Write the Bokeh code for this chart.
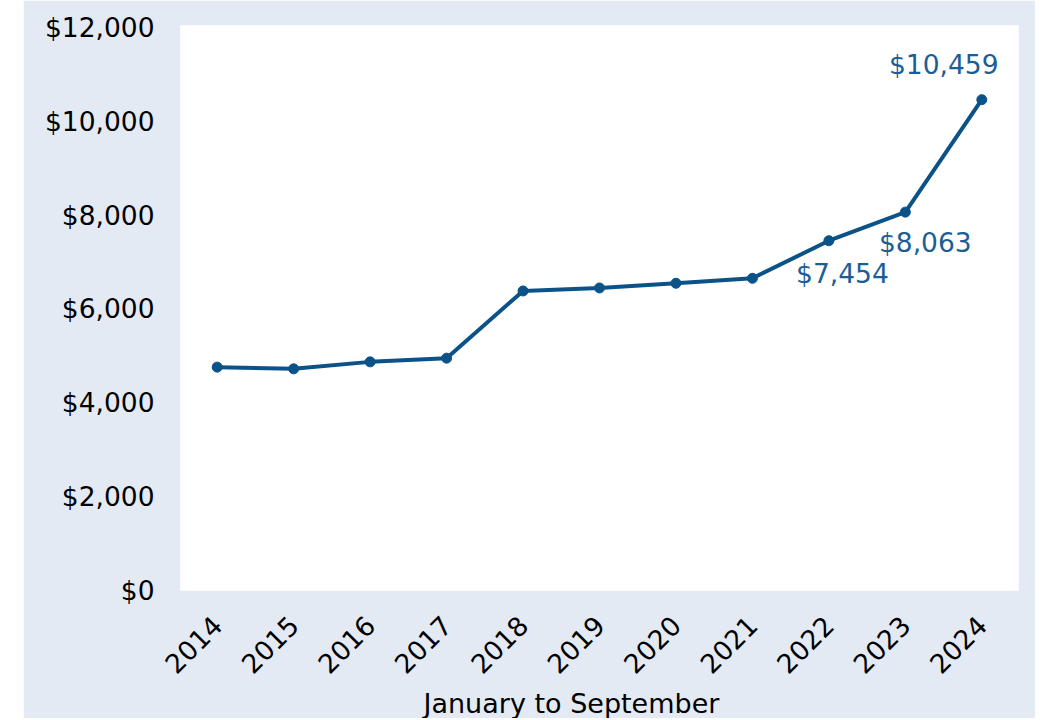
import math
from bokeh.plotting import figure
from bokeh.layouts import row
from bokeh.models import Range1d, FixedTicker, NumeralTickFormatter, ColumnDataSource, LabelSet, Title, Spacer
from bokeh.embed import file_html
from bokeh.resources import INLINE
from bokeh.core.properties import value

years = [2014, 2015, 2016, 2017, 2018, 2019, 2020, 2021, 2022, 2023, 2024]
amounts = [4760, 4723, 4872, 4951, 6383, 6447, 6547, 6653, 7454, 8063, 10459]
label_years = [2022, 2023, 2024]
label_values = [7454, 8063, 10459]
label_texts = ["$7,454", "$8,063", "$10,459"]
y_ticks = [0, 2000, 4000, 6000, 8000, 10000, 12000]
x_title = "January to September"

LINE = "#0B5288"
LABEL = "#1B5E96"
BG = "#E3EAF4"
FONT = "DejaVu Sans"

x_lo, x_hi = 2013.52, 2024.48
p = figure(width=1012, height=718, output_backend="svg", toolbar_location=None,
           x_range=Range1d(x_lo, x_hi), y_range=Range1d(0, 12040),
           min_border_left=157, min_border_right=17, min_border_top=25, min_border_bottom=127)
p.background_fill_color = "white"
p.border_fill_color = BG
p.outline_line_color = None
p.grid.visible = False

p.line(years, amounts, line_color=LINE, line_width=4)
p.scatter(years, amounts, size=10, fill_color=LINE, line_color=LINE)

src = ColumnDataSource(dict(x=label_years, y=label_values, t=label_texts,
                            dx=[13.5, 20, -38], dy=[-33, -30, 35]))
labels = LabelSet(x="x", y="y", text="t", source=src, x_offset="dx", y_offset="dy",
                  text_align="center", text_baseline="middle", text_color=LABEL,
                  text_font=value(FONT), text_font_size="26.5px")
p.add_layout(labels)

for ax in (p.xaxis[0], p.yaxis[0]):
    ax.axis_line_color = None
    ax.major_tick_line_color = None
    ax.minor_tick_line_color = None
    ax.major_label_text_font = FONT
    ax.major_label_text_font_size = "26.5px"
    ax.major_label_text_color = "#000000"

p.yaxis[0].ticker = FixedTicker(ticks=y_ticks)
p.yaxis[0].formatter = NumeralTickFormatter(format="$0,0")
p.yaxis[0].major_label_standoff = 20

p.xaxis[0].ticker = FixedTicker(ticks=years)
p.xaxis[0].major_label_overrides = {y: str(y) for y in years}
p.xaxis[0].major_label_orientation = math.pi / 4
p.xaxis[0].major_label_standoff = 24

x_title_obj = Title(text=x_title, align="left", offset=243, text_font=FONT,
                    text_font_size="27px", text_font_style="normal", text_color="#000000",
                    standoff=0)
p.add_layout(x_title_obj, "below")

layout = row(Spacer(width=23, height=718), p)
open("out.html", "w").write(file_html(layout, INLINE))
